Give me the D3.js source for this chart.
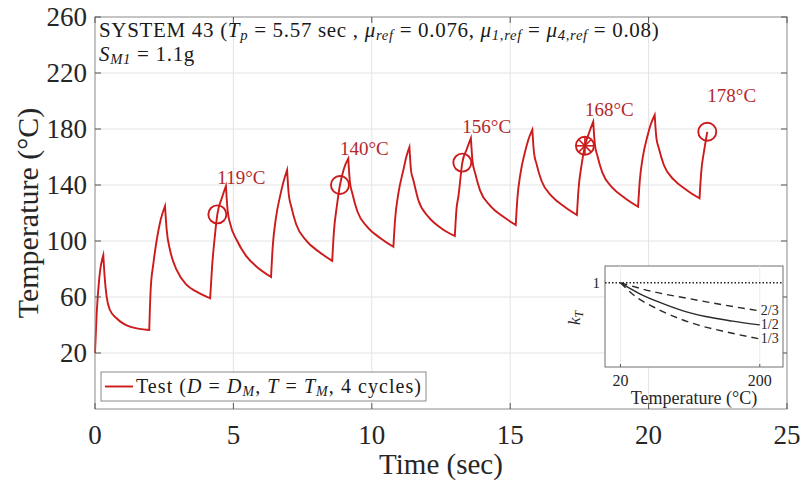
<!DOCTYPE html>
<html>
<head>
<meta charset="utf-8">
<script src="https://cdn.jsdelivr.net/npm/d3@7/dist/d3.min.js"></script>
<style>
  body { margin: 0; background: #fff; }
  svg { display: block; }
  text { font-family: "Liberation Serif", "DejaVu Serif", serif; }
</style>
</head>
<body>
<svg id="chart" width="803" height="485"></svg>
<script>
// Recorded temperature history (time in s, temperature in °C)
const timeSec = [
  0, 0.06, 0.16, 0.30, 0.35, 0.42, 0.54, 0.78, 1.26, 1.96,
  2.01, 2.11, 2.23, 2.37, 2.53, 2.59, 2.71, 2.95, 3.31, 3.67, 4.16,
  4.23, 4.34, 4.42, 4.58, 4.73, 4.79, 4.88, 5.12, 5.48, 5.84, 6.36,
  6.42, 6.53, 6.69, 6.81, 6.94, 7.00, 7.09, 7.27, 7.64, 8.09, 8.57,
  8.63, 8.74, 8.85, 8.99, 9.15, 9.21, 9.30, 9.48, 9.85, 10.30, 10.78,
  10.84, 10.96, 11.14, 11.26, 11.36, 11.42, 11.50, 11.68, 12.04, 12.52, 13.00,
  13.06, 13.13, 13.27, 13.43, 13.58, 13.64, 13.73, 13.91, 14.28, 14.73, 15.20,
  15.26, 15.37, 15.53, 15.65, 15.80, 15.86, 15.95, 16.13, 16.50, 16.95, 17.41,
  17.47, 17.58, 17.70, 17.86, 18.00, 18.06, 18.15, 18.33, 18.70, 19.15, 19.62,
  19.68, 19.79, 19.95, 20.07, 20.22, 20.28, 20.37, 20.55, 20.92, 21.37, 21.84,
  21.90, 22.01, 22.12
];
const tempC = [
  20, 48, 74.5, 90, 74, 60.2, 50.7, 44.8, 38.8, 36.4,
  65, 84, 100.7, 115, 125, 107.9, 93.6, 79.3, 68.6, 63.8, 59.1,
  81.6, 105.5, 119, 130.5, 139.3, 122, 112.6, 100.7, 88.8, 81.6, 74.3,
  95.7, 115.6, 132.4, 142.3, 150.7, 133.2, 124.7, 111.8, 100.1, 92.3, 85.8,
  106.3, 125.3, 140, 151.5, 159, 142, 133.8, 121.1, 109.8, 102.2, 95.9,
  115, 134, 150.7, 161, 167, 150, 143.6, 129.3, 117.4, 109, 103.6,
  123, 132, 156, 165.5, 173.5, 156.7, 148.7, 136.2, 125.1, 117.6, 111.4,
  130.5, 148.2, 163.2, 172, 179.5, 163.1, 155.1, 143, 132, 124.7, 118.6,
  137.3, 154.6, 168, 177.9, 185.2, 168.8, 160.9, 148.8, 137.9, 130.6, 124.5,
  142.8, 159.9, 174.3, 182.8, 190, 173.9, 166.2, 154.3, 143.6, 136.5, 130.5,
  149, 165, 178
];

// Labelled temperature markers
const markerTime = [4.42, 8.85, 13.27, 17.70, 22.12];
const markerTemp = [119, 140, 156, 168, 178];
const markerStar = [false, false, false, true, false];

// Axis ticks
const xTicks = [0, 5, 10, 15, 20, 25];
const yTicks = [20, 60, 100, 140, 180, 220, 260];

// Inset: temperature reduction factor k_T curves
const insetTemp = [20, 45, 70, 100, 130, 165, 200];
const insetHalf = [1, 0.87, 0.77, 0.67, 0.60, 0.545, 0.5];
const insetTempTwoThirds = [20, 60, 110, 155, 200];
const insetTwoThirds = [1, 0.90, 0.81, 0.735, 0.667];
const insetTempOneThird = [20, 35, 70, 120, 160, 200];
const insetOneThird = [1, 0.87, 0.68, 0.50, 0.41, 0.333];
const insetXTicks = [20, 200];
const insetYTicks = [1];
const insetLabels = ["2/3", "1/2", "1/3"];

const RED = "#cc1b1b";
const LABEL_RED = "#b3282c";
const AXIS = "#8a8a8a";
const TICKTXT = "#262626";
const GRID = "#e3e3e3";

const svg = d3.select("#chart");

const x = d3.scaleLinear().domain([0, 25]).range([95, 787]);
const y = d3.scaleLinear().domain([-20, 260]).range([409, 17]);

// grid
const grid = svg.append("g");
grid.selectAll("line.gx").data(xTicks.filter(d => d > 0 && d < 25)).join("line")
  .attr("x1", d => x(d)).attr("x2", d => x(d))
  .attr("y1", y(-20)).attr("y2", y(260))
  .attr("stroke", GRID).attr("stroke-width", 1);
grid.selectAll("line.gy").data(yTicks.filter(d => d < 260)).join("line")
  .attr("y1", d => y(d)).attr("y2", d => y(d))
  .attr("x1", x(0)).attr("x2", x(25))
  .attr("stroke", GRID).attr("stroke-width", 1);

// temperature line: split at turning points so peaks stay sharp
function monotoneRuns(xs, ys) {
  const runs = [];
  let cur = [[xs[0], ys[0]]];
  for (let i = 1; i < xs.length; i++) {
    cur.push([xs[i], ys[i]]);
    if (i < xs.length - 1) {
      const d1 = ys[i] - ys[i - 1], d2 = ys[i + 1] - ys[i];
      if (d1 * d2 < 0) { runs.push(cur); cur = [[xs[i], ys[i]]]; }
    }
  }
  runs.push(cur);
  return runs;
}
const line = d3.line().x(d => x(d[0])).y(d => y(d[1])).curve(d3.curveMonotoneX);
const pathD = monotoneRuns(timeSec, tempC)
  .map((r, i) => { const d = line(r); return i ? d.replace(/^M/, "L") : d; })
  .join("");
svg.append("path").attr("d", pathD).attr("fill", "none")
  .attr("stroke", RED).attr("stroke-width", 1.9)
  .attr("stroke-linejoin", "miter").attr("stroke-miterlimit", 12);

// markers
const mk = svg.append("g");
markerTime.forEach((t, i) => {
  const cx = x(t), cy = y(markerTemp[i]);
  mk.append("circle").attr("cx", cx).attr("cy", cy).attr("r", 9)
    .attr("fill", "none").attr("stroke", RED).attr("stroke-width", 1.9);
  if (markerStar[i]) {
    [0, 45, 90, 135].forEach(a => {
      const r = 8.5, rad = a * Math.PI / 180;
      mk.append("line")
        .attr("x1", cx - r * Math.cos(rad)).attr("y1", cy - r * Math.sin(rad))
        .attr("x2", cx + r * Math.cos(rad)).attr("y2", cy + r * Math.sin(rad))
        .attr("stroke", RED).attr("stroke-width", 1.6);
    });
  }
  mk.append("text").attr("x", cx).attr("y", cy - 30)
    .attr("font-size", 19).attr("fill", LABEL_RED)
    .text(markerTemp[i] + "\u00B0C");
});

// axes box
svg.append("rect").attr("x", x(0)).attr("y", y(260))
  .attr("width", x(25) - x(0)).attr("height", y(-20) - y(260))
  .attr("fill", "none").attr("stroke", AXIS).attr("stroke-width", 1);

// inward tick marks on all sides
const tk = svg.append("g").attr("stroke", "#555").attr("stroke-width", 1);
xTicks.forEach(d => {
  tk.append("line").attr("x1", x(d)).attr("x2", x(d)).attr("y1", y(-20)).attr("y2", y(-20) - 6);
  tk.append("line").attr("x1", x(d)).attr("x2", x(d)).attr("y1", y(260)).attr("y2", y(260) + 6);
});
yTicks.forEach(d => {
  tk.append("line").attr("y1", y(d)).attr("y2", y(d)).attr("x1", x(0)).attr("x2", x(0) + 6);
  tk.append("line").attr("y1", y(d)).attr("y2", y(d)).attr("x1", x(25)).attr("x2", x(25) - 6);
});

// tick labels
svg.append("g").selectAll("text").data(xTicks).join("text")
  .attr("x", d => x(d)).attr("y", 444)
  .attr("text-anchor", "middle").attr("font-size", 27).attr("fill", TICKTXT)
  .text(d => d);
svg.append("g").selectAll("text").data(yTicks).join("text")
  .attr("x", 87).attr("y", d => y(d)).attr("dy", "0.34em")
  .attr("text-anchor", "end").attr("font-size", 27).attr("fill", TICKTXT)
  .text(d => d);

// axis titles
svg.append("text").attr("x", (x(0) + x(25)) / 2).attr("y", 474)
  .attr("text-anchor", "middle").attr("font-size", 29).attr("fill", TICKTXT)
  .text("Time (sec)");
svg.append("text")
  .attr("transform", `translate(38,${(y(-20) + y(260)) / 2}) rotate(-90)`)
  .attr("text-anchor", "middle").attr("font-size", 30).attr("fill", TICKTXT)
  .text("Temperature (\u00B0C)");

// rich text helper: parts are [text, style] with style among "", "i", "sub", "isub"
function richText(sel, parts) {
  parts.forEach(([s, st]) => {
    const ts = sel.append("tspan").text(s);
    if (st === "i") ts.attr("font-style", "italic");
    if (st === "sub" || st === "isub") {
      ts.attr("font-size", "0.7em").attr("baseline-shift", "-22%");
      if (st === "isub") ts.attr("font-style", "italic");
    }
  });
}

// system description
const t1 = svg.append("text").attr("x", 99).attr("y", 37).attr("font-size", 21)
  .attr("letter-spacing", 0.68).attr("fill", "#1a1a1a");
richText(t1, [
  ["SYSTEM 43 (", ""], ["T", "i"], ["p", "isub"], [" = 5.57 sec , ", ""],
  ["\u03BC", "i"], ["ref", "isub"], [" = 0.076, ", ""],
  ["\u03BC", "i"], ["1,ref", "isub"], [" = ", ""],
  ["\u03BC", "i"], ["4,ref", "isub"], [" = 0.08)", ""]
]);
const t2 = svg.append("text").attr("x", 99).attr("y", 61).attr("font-size", 21)
  .attr("letter-spacing", 0.68).attr("fill", "#1a1a1a");
richText(t2, [["S", "i"], ["M1", "isub"], [" = 1.1g", ""]]);

// legend
const lg = svg.append("g");
lg.append("rect").attr("x", 101).attr("y", 372).attr("width", 325).attr("height", 29)
  .attr("fill", "#fff").attr("stroke", "#8a8a8a").attr("stroke-width", 1);
lg.append("line").attr("x1", 105).attr("x2", 133).attr("y1", 386.5).attr("y2", 386.5)
  .attr("stroke", RED).attr("stroke-width", 1.9);
const lt = lg.append("text").attr("x", 136).attr("y", 393).attr("font-size", 20)
  .attr("letter-spacing", 1.05).attr("fill", "#1a1a1a");
richText(lt, [
  ["Test (", ""], ["D", "i"], [" = ", ""], ["D", "i"], ["M", "isub"], [", ", ""],
  ["T", "i"], [" = ", ""], ["T", "i"], ["M", "isub"], [", 4 cycles)", ""]
]);

// inset
const ix = d3.scaleLinear().domain([0, 230]).range([605, 783]);
const iy = d3.scaleLinear().domain([0, 1.2]).range([367, 266]);
const ins = svg.append("g");
ins.append("rect").attr("x", ix(0)).attr("y", iy(1.2))
  .attr("width", ix(230) - ix(0)).attr("height", iy(0) - iy(1.2))
  .attr("fill", "#fff").attr("stroke", "#6e6e6e").attr("stroke-width", 1);
insetXTicks.forEach(d => {
  ins.append("line").attr("x1", ix(d)).attr("x2", ix(d)).attr("y1", iy(0)).attr("y2", iy(1.2))
    .attr("stroke", "#ececec").attr("stroke-width", 1);
  ins.append("line").attr("x1", ix(d)).attr("x2", ix(d)).attr("y1", iy(0)).attr("y2", iy(0) - 3)
    .attr("stroke", "#555").attr("stroke-width", 1);
  ins.append("text").attr("x", ix(d)).attr("y", 386).attr("text-anchor", "middle")
    .attr("font-size", 16).attr("fill", TICKTXT).text(d);
});
insetYTicks.forEach(d => {
  ins.append("line").attr("x1", ix(0)).attr("x2", ix(230)).attr("y1", iy(d)).attr("y2", iy(d))
    .attr("stroke", "#222").attr("stroke-width", 1.5).attr("stroke-dasharray", "1.5,2");
  ins.append("text").attr("x", 600).attr("y", iy(d)).attr("dy", "0.33em").attr("text-anchor", "end")
    .attr("font-size", 15).attr("fill", TICKTXT).text(d);
});
const iline = d3.line().x(d => ix(d[0])).y(d => iy(d[1])).curve(d3.curveMonotoneX);
const insetCurves = [
  { t: insetTempTwoThirds, k: insetTwoThirds, dash: "7,5", label: insetLabels[0] },
  { t: insetTemp, k: insetHalf, dash: null, label: insetLabels[1] },
  { t: insetTempOneThird, k: insetOneThird, dash: "7,5", label: insetLabels[2] }
];
insetCurves.forEach(c => {
  const pts = c.t.map((v, i) => [v, c.k[i]]);
  const p = ins.append("path").attr("d", iline(pts)).attr("fill", "none")
    .attr("stroke", "#2a2a2a").attr("stroke-width", 1.4);
  if (c.dash) p.attr("stroke-dasharray", c.dash);
  const last = pts[pts.length - 1];
  ins.append("text").attr("x", ix(last[0]) + 1).attr("y", iy(last[1])).attr("dy", "0.3em")
    .attr("font-size", 14).attr("fill", TICKTXT).text(c.label);
});
ins.append("text").attr("x", (ix(0) + ix(230)) / 2).attr("y", 404).attr("text-anchor", "middle")
  .attr("font-size", 18).attr("fill", TICKTXT).text("Temperature (\u00B0C)");
const kl = ins.append("text").attr("transform", "translate(580,318) rotate(-90)")
  .attr("text-anchor", "middle").attr("font-size", 17).attr("fill", TICKTXT);
richText(kl, [["k", "i"], ["T", "isub"]]);
</script>
</body>
</html>
